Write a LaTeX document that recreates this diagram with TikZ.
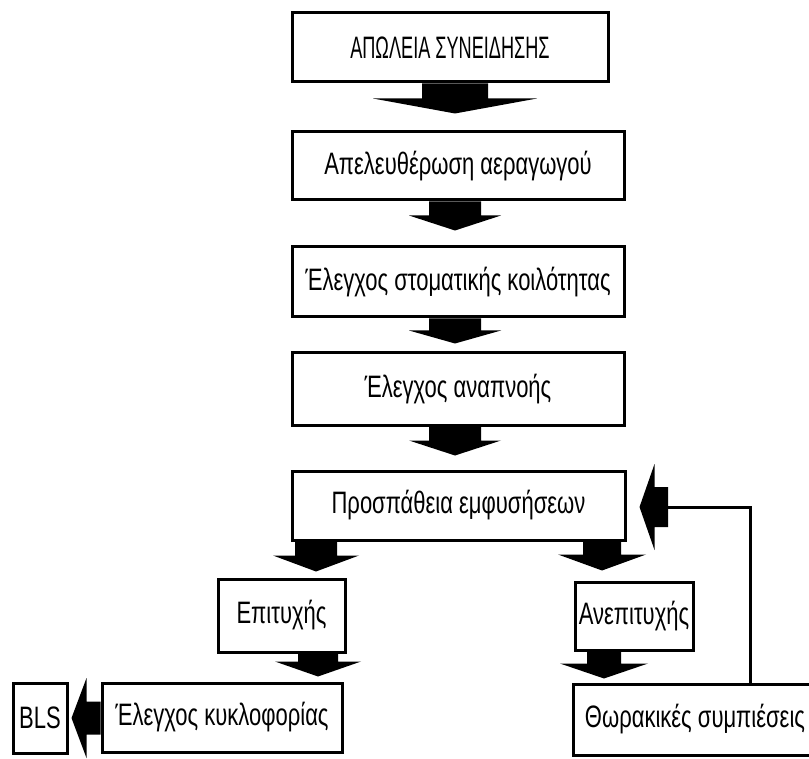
\documentclass[tikz,border=0pt]{standalone}
\usepackage{fontspec}
\setmainfont{Liberation Sans}[FakeStretch=0.71]
\newfontfamily\capsfont{Liberation Sans}[FakeStretch=0.585]
\usetikzlibrary{calc}
% down arrow: #1 from, #2 to, #3 axis x, #4 shaft half, #5 head half, #6 gap to target, #7 head length
\newcommand\dnarrow[7]{%
 \fill[arr] let \p1=(#1), \p2=(#2) in
 (#3pt-#4pt,\y1) -- (#3pt+#4pt,\y1) -- (#3pt+#4pt,\y2+#6pt+#7pt) -- (#3pt+#5pt,\y2+#6pt+#7pt)
 -- (#3pt,\y2+#6pt) -- (#3pt-#5pt,\y2+#6pt+#7pt) -- (#3pt-#4pt,\y2+#6pt+#7pt) -- cycle;}
% left arrow: #1 from, #2 to, #3 axis y, #4 shaft half, #5 head half, #6 gap, #7 head length
\newcommand\lfarrow[7]{%
 \fill[arr] let \p1=(#1), \p2=(#2) in
 (\x1,-#3pt+#4pt) -- (\x2+#6pt+#7pt,-#3pt+#4pt) -- (\x2+#6pt+#7pt,-#3pt+#5pt) -- (\x2+#6pt,-#3pt)
 -- (\x2+#6pt+#7pt,-#3pt-#5pt) -- (\x2+#6pt+#7pt,-#3pt-#4pt) -- (\x1,-#3pt-#4pt) -- cycle;}
\begin{document}
\begin{tikzpicture}[x=1pt,y=-1pt,
  box/.style={draw, line width=3pt, inner sep=0pt, align=center,
    font=\fontsize{31}{36}\selectfont},
  arr/.style={fill=black},
  wire/.style={line width=3pt}]
\useasboundingbox (0,0) rectangle (809,759);
\fill[white] (0,0) rectangle (809,759);
\node[box, minimum width=316pt, minimum height=69pt] (b1) at (450,47.5) {\capsfont ΑΠΩΛΕΙΑ ΣΥΝΕΙΔΗΣΗΣ};
\node[box, minimum width=332pt, minimum height=68pt] (b2) at (458,166) {Απελευθέρωση αεραγωγού};
\node[box, minimum width=332pt, minimum height=70pt] (b3) at (458,282) {Έλεγχος στοματικής κοιλότητας};
\node[box, minimum width=332pt, minimum height=72pt] (b4) at (458,389) {Έλεγχος αναπνοής};
\node[box, minimum width=333pt, minimum height=69pt] (b5) at (458.5,505.5) {Προσπάθεια εμφυσήσεων};
\node[box, minimum width=127pt, minimum height=73pt] (ep) at (281.5,615.5) {Επιτυχής};
\node[box, minimum width=118pt, minimum height=68pt] (an) at (634,616) {Ανεπιτυχής};
\node[box, minimum width=240pt, minimum height=69pt] (ek) at (222,717.5) {Έλεγχος κυκλοφορίας};
\node[box, minimum width=54pt, minimum height=70pt] (bls) at (40,718) {BLS};
\node[box, minimum width=244pt, minimum height=71pt] (th) at (695,719.5) {Θωρακικές συμπιέσεις};
% block arrows
\dnarrow{b1.south}{b2.north}{455}{33}{82}{17}{15}
\dnarrow{b2.south}{b3.north}{455}{26}{46}{15}{15}
\dnarrow{b3.south}{b4.north}{455}{26}{46}{8}{13}
\dnarrow{b4.south}{b5.north}{455}{26}{46}{14}{15}
\dnarrow{b5.south}{ep.north}{316}{21}{43}{6}{16}
\dnarrow{b5.south}{an.north}{602}{19}{44}{10}{16}
\dnarrow{ep.south}{ek.north}{318}{20}{43}{5}{15}
\dnarrow{an.south}{th.north}{604}{17}{44}{4}{15}
\lfarrow{ek.west}{bls.east}{718}{16.5}{40}{3}{15}
% feedback loop
\coordinate (fbc) at (750,507);
\coordinate (fbs) at (668,507);
\draw[wire] (fbc |- th.north) -- (fbc) -- (fbs);
\lfarrow{fbs}{b5.east}{507}{20}{43}{13}{15}
\end{tikzpicture}
\end{document}
